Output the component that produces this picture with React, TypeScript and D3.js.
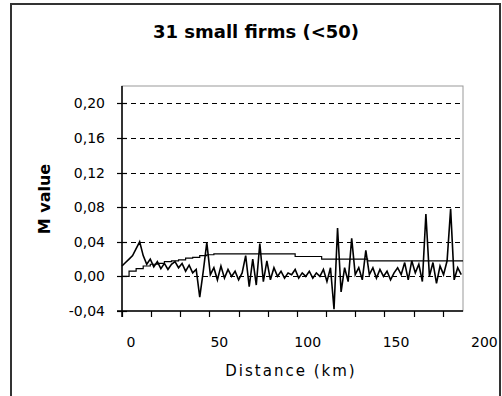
import React from "react";
import * as d3 from "d3";

// chart text
const title = "31 small firms (<50)";
const yTitle = "M value";
const xTitle = "Distance (km)";

// axis ticks
const yTicks = [-0.04, 0.0, 0.04, 0.08, 0.12, 0.16, 0.2];
const xLabels = [0, 50, 100, 150, 200];
const xTickStep = 16.5; // km between small tick marks

// M value, one reading every 2 km
const mStep = 2;
const mValues = [
  0.012, 0.016, 0.02, 0.024, 0.032, 0.04, 0.024, 0.014, 0.02, 0.011,
  0.017, 0.009, 0.015, 0.008, 0.014, 0.017, 0.01, 0.015, 0.006, 0.013,
  0.004, 0.008, -0.024, 0.006, 0.039, 0.002, 0.01, -0.004, 0.012, -0.002,
  0.008, 0.0, 0.006, -0.004, 0.004, 0.024, -0.012, 0.02, -0.01, 0.038,
  -0.006, 0.018, -0.004, 0.01, 0.0, 0.006, -0.002, 0.004, 0.002, 0.008,
  -0.002, 0.004, 0.0, 0.006, -0.002, 0.004, 0.0, 0.008, -0.006, 0.01,
  -0.038, 0.056, -0.018, 0.01, -0.006, 0.044, 0.002, 0.01, -0.004, 0.03,
  0.002, 0.01, -0.002, 0.008, 0.0, 0.006, -0.004, 0.004, 0.01, 0.002,
  0.016, -0.004, 0.018, 0.004, 0.014, -0.006, 0.072, 0.0, 0.016, -0.008,
  0.012, 0.002, 0.018, 0.078, -0.004, 0.01, 0.002,
];

// upper bound line
const boundKm = [0, 4, 8, 12, 16, 20, 24, 28, 32, 36, 40, 44, 48, 52, 98, 113, 139, 193];
const boundValues = [
  0, 0.006, 0.009, 0.012, 0.014, 0.015, 0.017, 0.018, 0.019, 0.021,
  0.022, 0.024, 0.025, 0.026, 0.023, 0.02, 0.018, 0.018,
];

const W = 502;
const H = 396;
const plot = { left: 122, top: 86, right: 463, bottom: 311 };
const font = "'DejaVu Sans', Arial, sans-serif";

export default function App() {
  const x = d3.scaleLinear().domain([0, 193]).range([plot.left, plot.right]);
  const y = d3.scaleLinear().domain([-0.04, 0.22]).range([plot.bottom, plot.top]);

  const mData = mValues.map((v, i) => [i * mStep, v] as [number, number]);
  const bData = boundKm.map((k, i) => [k, boundValues[i]] as [number, number]);

  const mLine = d3
    .line<[number, number]>()
    .x((d) => x(d[0]))
    .y((d) => y(d[1]));
  const bLine = d3
    .line<[number, number]>()
    .x((d) => x(d[0]))
    .y((d) => y(d[1]))
    .curve(d3.curveStepAfter);

  const smallTicks = d3.range(0, 193, xTickStep);
  const fmt = (v: number) => (v < 0 ? "-" : "") + Math.abs(v).toFixed(2).replace(".", ",");

  return (
    <svg
      width={W}
      height={H}
      style={{ position: "absolute", left: 0, top: 0, background: "#fff" }}
    >
      {/* outer chart border */}
      <rect x={11} y={4} width={489} height={420} fill="none" stroke="#333" strokeWidth={2} />

      <text x={256} y={38} textAnchor="middle" fontFamily={font} fontWeight="bold" fontSize={18}>
        {title}
      </text>

      {/* plot frame */}
      <rect
        x={plot.left}
        y={plot.top}
        width={plot.right - plot.left}
        height={plot.bottom - plot.top}
        fill="none"
        stroke="#999"
        strokeWidth={1}
      />

      {/* gridlines */}
      {yTicks
        .filter((t) => t >= 0)
        .map((t) => (
          <line
            key={"g" + t}
            x1={plot.left}
            x2={plot.right}
            y1={Math.round(y(t)) + 0.5}
            y2={Math.round(y(t)) + 0.5}
            stroke="#000"
            strokeDasharray="5,4"
          />
        ))}

      {/* data */}
      <path d={bLine(bData) || ""} fill="none" stroke="#000" strokeWidth={1.2} />
      <path d={mLine(mData) || ""} fill="none" stroke="#000" strokeWidth={1.6} />

      {/* axes */}
      <line x1={plot.left} x2={plot.left} y1={plot.top} y2={plot.bottom + 6} stroke="#000" strokeWidth={1.5} />
      <line x1={plot.left - 5} x2={plot.right} y1={plot.bottom} y2={plot.bottom} stroke="#000" strokeWidth={1.5} />

      {yTicks.map((t) => (
        <g key={"y" + t}>
          <line
            x1={plot.left - 5}
            x2={plot.left + 5}
            y1={Math.round(y(t)) + 0.5}
            y2={Math.round(y(t)) + 0.5}
            stroke="#000"
            strokeWidth={1.2}
          />
          <text
            x={105}
            y={y(t) + 5}
            textAnchor="end"
            fontFamily={font}
            fontSize={14}
          >
            {fmt(t)}
          </text>
        </g>
      ))}

      {smallTicks.map((k) => (
        <line
          key={"xt" + k}
          x1={Math.round(x(k)) + 0.5}
          x2={Math.round(x(k)) + 0.5}
          y1={plot.bottom}
          y2={plot.bottom + 6}
          stroke="#000"
          strokeWidth={1.2}
        />
      ))}

      {xLabels.map((v) => (
        <text
          key={"xl" + v}
          x={x(v) + 9}
          y={347}
          textAnchor="middle"
          fontFamily={font}
          fontSize={14}
        >
          {v}
        </text>
      ))}

      <text
        x={291}
        y={376}
        textAnchor="middle"
        fontFamily={font}
        fontSize={15}
        letterSpacing={2}
      >
        {xTitle}
      </text>

      <text
        transform="translate(50,199) rotate(-90)"
        textAnchor="middle"
        fontFamily={font}
        fontWeight="bold"
        fontSize={16}
      >
        {yTitle}
      </text>
    </svg>
  );
}
